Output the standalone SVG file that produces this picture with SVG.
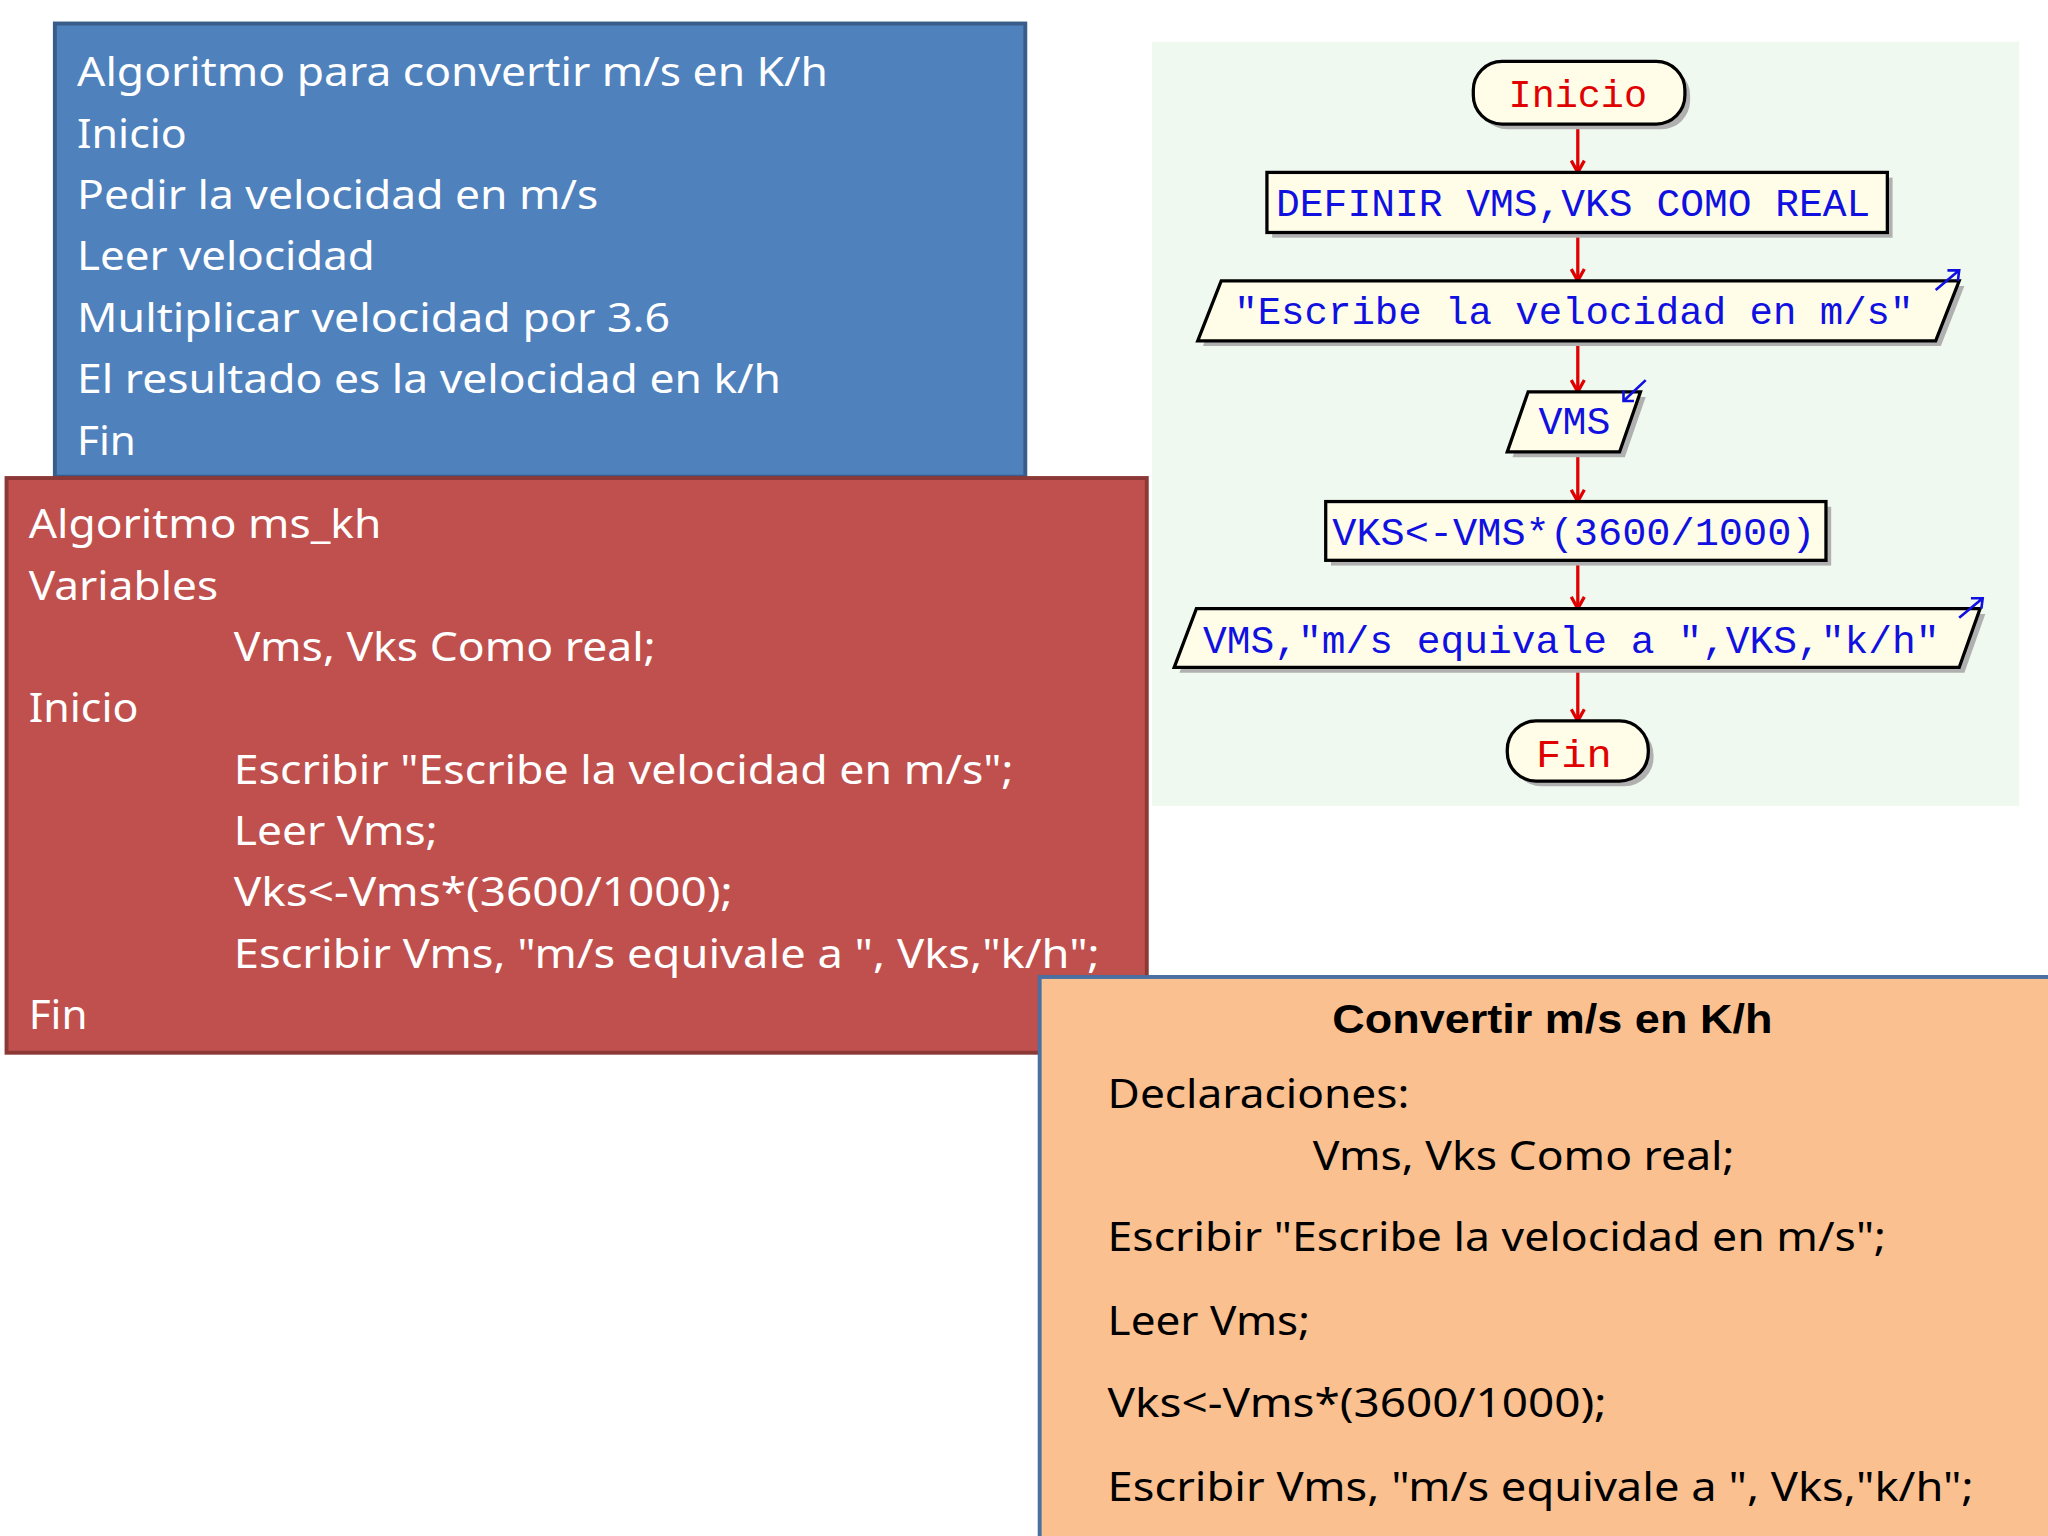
<svg xmlns="http://www.w3.org/2000/svg" width="2048" height="1536" viewBox="0 0 2048 1536">
<defs>
<style>
.t{font-family:"Noto Sans","Open Sans",sans-serif;font-size:31px;fill:#fff}
.o{font-family:"Noto Sans","Open Sans",sans-serif;font-size:31px;fill:#000}
.m{font-family:"Liberation Mono","DejaVu Sans Mono",monospace;font-size:30px;fill:#1010e0;text-anchor:start}
.r{fill:#e00000}
.sh{fill:#b0b0b0}
.nd{fill:#fffde8;stroke:#000;stroke-width:2.5}
.cn{stroke:#e00000;stroke-width:2.5;fill:none}
.ar{stroke:#1010e0;stroke-width:2;fill:none}
</style>
<marker id="ah" markerWidth="12" markerHeight="12" refX="10" refY="6" orient="auto" markerUnits="userSpaceOnUse">
<path d="M1,1 L10,6 L1,11" fill="none" stroke="#e00000" stroke-width="2.5"/>
</marker>
</defs>
<rect width="2048" height="1536" fill="#fff"/>
<g transform="scale(1.30612)">
<g id="blue">
<rect x="42" y="18" width="743" height="347" fill="#4f81bd" stroke="#385d8a" stroke-width="3"/>
<text class="t" x="59" y="66" textLength="575" lengthAdjust="spacingAndGlyphs">Algoritmo para convertir m/s en K/h</text>
<text class="t" x="59" y="113" textLength="84" lengthAdjust="spacingAndGlyphs">Inicio</text>
<text class="t" x="59" y="160" textLength="399" lengthAdjust="spacingAndGlyphs">Pedir la velocidad en m/s</text>
<text class="t" x="59" y="207" textLength="228" lengthAdjust="spacingAndGlyphs">Leer velocidad</text>
<text class="t" x="59" y="254" textLength="454" lengthAdjust="spacingAndGlyphs">Multiplicar velocidad por 3.6</text>
<text class="t" x="59" y="301" textLength="539" lengthAdjust="spacingAndGlyphs">El resultado es la velocidad en k/h</text>
<text class="t" x="59" y="348" textLength="45" lengthAdjust="spacingAndGlyphs">Fin</text>
</g>
<g id="red">
<rect x="5" y="366" width="873" height="440" fill="#c0504d" stroke="#8c3836" stroke-width="3"/>
<text class="t" x="22" y="412" textLength="270" lengthAdjust="spacingAndGlyphs">Algoritmo ms_kh</text>
<text class="t" x="22" y="459" textLength="145" lengthAdjust="spacingAndGlyphs">Variables</text>
<text class="t" x="179" y="506" textLength="323" lengthAdjust="spacingAndGlyphs">Vms, Vks Como real;</text>
<text class="t" x="22" y="553" textLength="84" lengthAdjust="spacingAndGlyphs">Inicio</text>
<text class="t" x="179" y="600" textLength="597" lengthAdjust="spacingAndGlyphs">Escribir "Escribe la velocidad en m/s";</text>
<text class="t" x="179" y="647" textLength="156" lengthAdjust="spacingAndGlyphs">Leer Vms;</text>
<text class="t" x="179" y="694" textLength="382" lengthAdjust="spacingAndGlyphs">Vks&lt;-Vms*(3600/1000);</text>
<text class="t" x="179" y="741" textLength="663" lengthAdjust="spacingAndGlyphs">Escribir Vms, "m/s equivale a ", Vks,"k/h";</text>
<text class="t" x="22" y="788" textLength="45" lengthAdjust="spacingAndGlyphs">Fin</text>
</g>
<g id="orange">
<rect x="796" y="748" width="790" height="450" fill="#fac090" stroke="#4a6fa0" stroke-width="3"/>
<text class="o" x="1020" y="791" font-weight="bold" textLength="337" lengthAdjust="spacingAndGlyphs" style="font-family:'Liberation Sans',sans-serif">Convertir m/s en K/h</text>
<text class="o" x="848" y="848" textLength="231" lengthAdjust="spacingAndGlyphs">Declaraciones:</text>
<text class="o" x="1005" y="896" textLength="323" lengthAdjust="spacingAndGlyphs">Vms, Vks Como real;</text>
<text class="o" x="848" y="958" textLength="596" lengthAdjust="spacingAndGlyphs">Escribir "Escribe la velocidad en m/s";</text>
<text class="o" x="848" y="1022" textLength="155" lengthAdjust="spacingAndGlyphs">Leer Vms;</text>
<text class="o" x="848" y="1085" textLength="382" lengthAdjust="spacingAndGlyphs">Vks&lt;-Vms*(3600/1000);</text>
<text class="o" x="848" y="1149" textLength="663" lengthAdjust="spacingAndGlyphs">Escribir Vms, "m/s equivale a ", Vks,"k/h";</text>
</g>
<rect x="882" y="32" width="664" height="585" fill="#f0f9f0"/>
<g id="connectors">
<line class="cn" x1="1208" y1="95" x2="1208" y2="132" marker-end="url(#ah)"/>
<line class="cn" x1="1208" y1="178" x2="1208" y2="215" marker-end="url(#ah)"/>
<line class="cn" x1="1208" y1="261" x2="1208" y2="300" marker-end="url(#ah)"/>
<line class="cn" x1="1208" y1="346" x2="1208" y2="384" marker-end="url(#ah)"/>
<line class="cn" x1="1208" y1="429" x2="1208" y2="466" marker-end="url(#ah)"/>
<line class="cn" x1="1208" y1="511" x2="1208" y2="552" marker-end="url(#ah)"/>
</g>
<g id="n_inicio">
<rect class="sh" x="1132" y="51" width="162" height="48" rx="22"/>
<rect class="nd" x="1128" y="47" width="162" height="48" rx="22"/>
<text class="m r" x="1155" y="82" textLength="106" lengthAdjust="spacingAndGlyphs">Inicio</text>
</g>
<g id="n_definir">
<rect class="sh" x="974" y="136" width="475" height="46"/>
<rect class="nd" x="970" y="132" width="475" height="46"/>
<text class="m" x="977" y="165" textLength="455" lengthAdjust="spacingAndGlyphs">DEFINIR VMS,VKS COMO REAL</text>
</g>
<g id="n_escribe">
<polygon class="sh" points="939,219 1504,219 1486,265 921,265"/>
<polygon class="nd" points="935,215 1500,215 1482,261 917,261"/>
<text class="m" x="945" y="248" textLength="520" lengthAdjust="spacingAndGlyphs">"Escribe la velocidad en m/s"</text>
<path class="ar" d="M1482,222 L1500,207 M1491,207 L1500,207 L1499,215"/>
</g>
<g id="n_leer">
<polygon class="sh" points="1174,304 1260,304 1244,350 1158,350"/>
<polygon class="nd" points="1170,300 1256,300 1240,346 1154,346"/>
<text class="m" x="1178" y="332" textLength="55" lengthAdjust="spacingAndGlyphs">VMS</text>
<path class="ar" d="M1260,291 L1243,307 M1243,299 L1243,307 L1251,307"/>
</g>
<g id="n_asig">
<rect class="sh" x="1019" y="388" width="383" height="45"/>
<rect class="nd" x="1015" y="384" width="383" height="45"/>
<text class="m" x="1020" y="417" textLength="370" lengthAdjust="spacingAndGlyphs">VKS&lt;-VMS*(3600/1000)</text>
</g>
<g id="n_escribir2">
<polygon class="sh" points="920,470 1520,470 1504,515 903,515"/>
<polygon class="nd" points="916,466 1516,466 1500,511 899,511"/>
<text class="m" x="921" y="500" textLength="564" lengthAdjust="spacingAndGlyphs">VMS,"m/s equivale a ",VKS,"k/h"</text>
<path class="ar" d="M1500,473 L1518,458 M1509,458 L1518,458 L1517,466"/>
</g>
<g id="n_fin">
<rect class="sh" x="1158" y="556" width="108" height="46" rx="22"/>
<rect class="nd" x="1154" y="552" width="108" height="46" rx="22"/>
<text class="m r" x="1176" y="587" textLength="58" lengthAdjust="spacingAndGlyphs">Fin</text>
</g>
</g>
</svg>
